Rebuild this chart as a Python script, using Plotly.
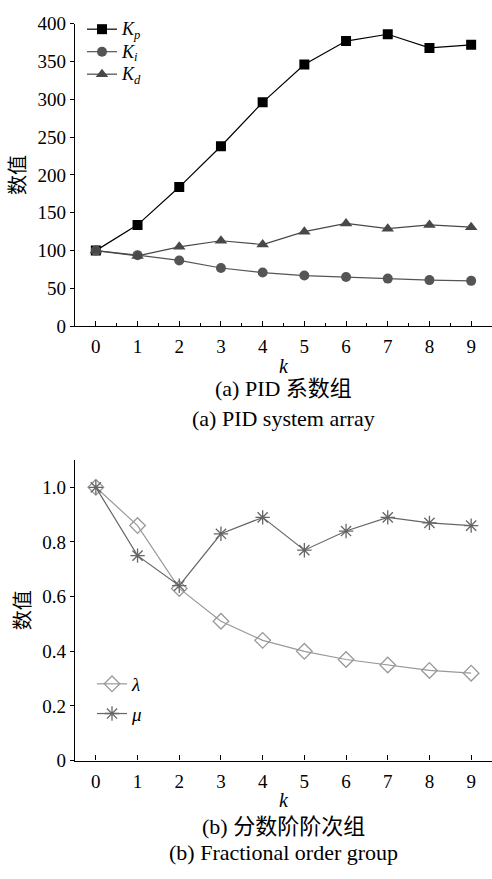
import plotly.graph_objects as go

k = [0, 1, 2, 3, 4, 5, 6, 7, 8, 9]
Kp = [100, 134, 184, 238, 296, 346, 377, 386, 368, 372]
Ki = [100, 94, 87, 77, 71, 67, 65, 63, 61, 60]
Kd = [100, 93, 105, 113, 108, 125, 136, 129, 134, 131]
lam = [1.0, 0.86, 0.63, 0.51, 0.44, 0.40, 0.37, 0.35, 0.33, 0.32]
mu = [1.0, 0.75, 0.64, 0.83, 0.89, 0.77, 0.84, 0.89, 0.87, 0.86]

FONT = "Liberation Serif, serif"
CJK = "Liberation Serif, Noto Sans CJK SC"
W, H = 492, 879


def kname(s):
    return "<span style='font-size:18px'><i>K</i><sub><i>%s</i></sub></span>" % s


fig = go.Figure()
fig.add_trace(go.Scatter(x=k, y=Kp, mode="lines+markers", name=kname("p"),
                         line=dict(color="#000000", width=1.2),
                         marker=dict(symbol="square", size=10, color="#000000"),
                         xaxis="x", yaxis="y", legend="legend"))
fig.add_trace(go.Scatter(x=k, y=Ki, mode="lines+markers", name=kname("i"),
                         line=dict(color="#555555", width=1.2),
                         marker=dict(symbol="circle", size=10, color="#555555"),
                         xaxis="x", yaxis="y", legend="legend"))
fig.add_trace(go.Scatter(x=k, y=Kd, mode="lines+markers", name=kname("d"),
                         line=dict(color="#484848", width=1.2),
                         marker=dict(symbol="triangle-up", size=11, color="#484848"),
                         xaxis="x", yaxis="y", legend="legend"))
fig.add_trace(go.Scatter(x=k, y=lam, mode="lines+markers", name="<i>λ</i>",
                         line=dict(color="#999999", width=1.2),
                         marker=dict(symbol="diamond-open", size=12, color="#999999",
                                     line=dict(width=1.3, color="#999999")),
                         xaxis="x2", yaxis="y2", legend="legend2", legendgroup="a"))
fig.add_trace(go.Scatter(x=k, y=mu, mode="lines+markers", name="<i>μ</i>",
                         line=dict(color="#666666", width=1.2),
                         marker=dict(symbol="asterisk-open", size=12, color="#666666",
                                     line=dict(width=1.3, color="#666666")),
                         xaxis="x2", yaxis="y2", legend="legend2", legendgroup="b"))

xcommon = dict(range=[-0.5, 9.5], tickvals=k, ticks="inside", ticklen=5, tickwidth=1.2,
               tickcolor="black", showline=True, linecolor="black", linewidth=1.3,
               showgrid=False, zeroline=False, tickfont=dict(family=FONT, size=19, color="black"),
               ticklabelstandoff=3,
               title=dict(text="<i>k</i>", font=dict(family=FONT, size=20, color="black"), standoff=2))
ycommon = dict(ticks="outside", ticklen=4, tickwidth=1.2, tickcolor="black",
               showline=True, linecolor="black", linewidth=1.3, showgrid=False, zeroline=False,
               tickfont=dict(family=FONT, size=19, color="black"),
               title=dict(text="数值", font=dict(family=CJK, size=20, color="black"), standoff=6))

fig.update_layout(
    width=W, height=H, margin=dict(l=0, r=0, t=0, b=0),
    paper_bgcolor="white", plot_bgcolor="white",
    font=dict(family=CJK, color="black"),
    xaxis=dict(xcommon, domain=[75 / W, 1.0], anchor="y",
               minor=dict(dtick=0.5, tick0=0.5, ticks="inside", ticklen=3, tickcolor="black", tickwidth=1)),
    yaxis=dict(ycommon, domain=[1 - 324 / H, 1 - 14 / H], range=[0, 400], dtick=50, anchor="x"),
    xaxis2=dict(xcommon, domain=[75 / W, 1.0], anchor="y2"),
    yaxis2=dict(ycommon, domain=[1 - 769 / H, 1 - 461 / H], range=[0, 1.1],
                tickvals=[0, 0.2, 0.4, 0.6, 0.8, 1.0], ticktext=["0", "0.2", "0.4", "0.6", "0.8", "1.0"],
                anchor="x2"),
    legend=dict(x=82 / W, y=1 - 3 / H, xanchor="left", yanchor="top", bgcolor="rgba(0,0,0,0)",
                font=dict(family=FONT, size=15, color="black"), tracegroupgap=0),
    legend2=dict(x=92 / W, y=1 - 671 / H, xanchor="left", yanchor="top", bgcolor="rgba(0,0,0,0)",
                 font=dict(family=FONT, size=19, color="black"), tracegroupgap=2),
    showlegend=True,
)

captions = [("(a) PID 系数组", 388), ("(a) PID system array", 418),
            ("(b) 分数阶阶次组", 836), ("(b) Fractional order group", 863)]
for txt, yy in captions:
    fig.add_annotation(text=txt, x=283 / W, y=1 - yy / H, xref="paper", yref="paper",
                       xanchor="center", yanchor="middle", showarrow=False,
                       font=dict(family=CJK, size=22, color="black"))

fig.write_html("out.html")
